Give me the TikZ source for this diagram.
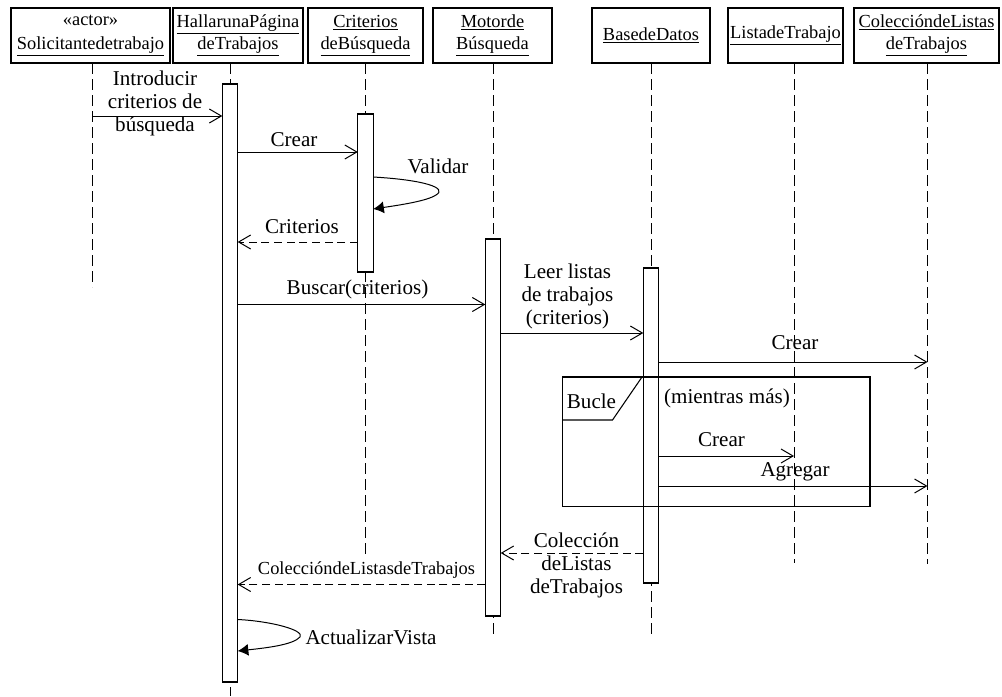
\documentclass[tikz,border=0pt]{standalone}
\usepackage{fontspec}
\setmainfont{Liberation Serif}
\usetikzlibrary{arrows.meta}
\begin{document}
\begin{tikzpicture}[x=0.75pt,y=-0.75pt, line width=0.8pt,
  hdr/.style={draw, inner sep=0pt, outer sep=0pt, minimum height=41.25pt, align=center, font=\fontsize{13.8}{16.5}\selectfont},
  life/.style={dash pattern=on 8pt off 4pt, line width=0.7pt},
  act/.style={draw, fill=white, inner sep=0pt, outer sep=0pt, minimum width=11.5pt},
  msg/.style={-{Straight Barb[length=9pt,width=10.5pt]}, line width=0.75pt},
  ret/.style={msg, dash pattern=on 6pt off 3.5pt},
  selfmsg/.style={-{Latex[length=8pt,width=9pt]}, line width=0.75pt},
  lbl/.style={font=\fontsize{15.8}{17.3}\selectfont, align=center, inner sep=0pt},
  slbl/.style={font=\fontsize{13.8}{16}\selectfont, align=center, inner sep=0pt},
]
\useasboundingbox (0,0) rectangle (1002,696);

% headers
\node[hdr, minimum width=119.25pt] (hA) at (90.5,35.5) {«actor»\\[1pt]\underline{Solicitantedetrabajo}};
\node[hdr, minimum width=97.5pt] (hH) at (238,35.5) {\underline{HallarunaPágina}\\\underline{deTrabajos}};
\node[hdr, minimum width=86.25pt] (hC) at (365.5,35.5) {\underline{Criterios}\\\underline{deBúsqueda}};
\node[hdr, minimum width=89.25pt] (hM) at (492.5,35.5) {\underline{Motorde}\\\underline{Búsqueda}};
\node[hdr, minimum width=88.5pt] (hB) at (651,35.5) {\underline{BasedeDatos}};
\node[hdr, minimum width=86.25pt] (hL) at (785.5,35.5) {\underline{ListadeTrabajo}};
\node[hdr, minimum width=108.75pt] (hK) at (926.5,35.5) {\underline{ColeccióndeListas}\\\underline{deTrabajos}};

% lifeline ends
\coordinate (lA) at (92,63);     \coordinate (eA) at (92,287);
\coordinate (lH) at (230,63);    \coordinate (eH) at (230,696);
\coordinate (lC) at (365.5,63);  \coordinate (eC) at (365.5,557);
\coordinate (lM) at (493,63);    \coordinate (eM) at (493,635);
\coordinate (lB) at (651,63);    \coordinate (eB) at (651,635);
\coordinate (lL) at (794,63);    \coordinate (eL) at (794,563);
\coordinate (lK) at (927.5,63);  \coordinate (eK) at (927.5,564);

\foreach \a/\b in {lA/eA,lH/eH,lC/eC,lM/eM,lB/eB,lL/eL,lK/eK}
  \draw[life] (\a) -- (\b);

% activations
\node[act, minimum height=448.5pt] (aH) at (230,383) {};
\node[act, minimum height=118.5pt] (aC) at (365.5,193) {};
\node[act, minimum height=282.75pt] (aM) at (493,427.5) {};
\node[act, minimum height=236.25pt] (aB) at (651,425.5) {};

% messages
\draw[msg] (lA |- 0,116) -- (aH.west |- 0,116);
\node[lbl] (t1) at (155,103.5) {Introducir\\criterios de\\búsqueda};

\draw[msg] (aH.east |- 0,152) -- (aC.west |- 0,152);
\node[lbl] (t2) at (294,140) {Crear};

\draw[selfmsg] (aC.east |- 0,177) .. controls (425,180) and (448,188) .. (436,195)
  .. controls (427,201) and (400,205) .. (aC.east |- 0,209);
\node[lbl] (t3) at (438,166) {Validar};

\draw[ret] (aC.west |- 0,242) -- (aH.east |- 0,242);
\node[lbl] (t4) at (302,227) {Criterios};

\draw[msg] (aH.east |- 0,304.5) -- (aM.west |- 0,304.5);
\node[lbl] (t5) at (357.5,289) {Buscar(criterios)};

\draw[msg] (aM.east |- 0,333) -- (aB.west |- 0,333);
\node[lbl] (t6) at (567.5,296.5) {Leer listas\\de trabajos\\(criterios)};

\draw[msg] (aB.east |- 0,362) -- (lK |- 0,362);
\node[lbl] (t7) at (795,343) {Crear};

% loop frame
\draw (562.5,377) rectangle (870,506.5);
\draw (562.5,420) -- (612.5,420) -- (642,377);
\node[lbl] (t8) at (591.5,401.5) {Bucle};
\node[lbl] (t9) at (727,398) {(mientras más)};

\draw[msg] (aB.east |- 0,456) -- (lL |- 0,456);
\node[lbl] (t10) at (721.5,440) {Crear};

\draw[msg] (aB.east |- 0,486) -- (lK |- 0,486);
\node[lbl] (t11) at (795,471.5) {Agregar};

\draw[ret] (aB.west |- 0,553) -- (aM.east |- 0,553);
\node[lbl] (t12) at (576.5,565.5) {Colección\\deListas\\deTrabajos};

\draw[ret] (aM.west |- 0,584.5) -- (aH.east |- 0,584.5);
\node[slbl] (t13) at (366.5,570) {ColeccióndeListasdeTrabajos};

\draw[selfmsg] (aH.east |- 0,619.5) .. controls (270,621) and (305,630) .. (300,637)
  .. controls (293,645) and (265,648) .. (aH.east |- 0,651);
\node[lbl, anchor=west] (t14) at (305,637) {ActualizarVista};
\end{tikzpicture}
\end{document}
